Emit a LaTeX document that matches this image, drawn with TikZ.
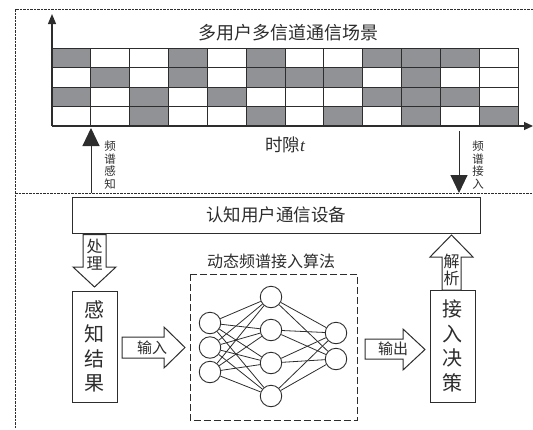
\documentclass[tikz,border=0pt]{standalone}
\usepackage{fontspec}
\setmainfont{Liberation Serif}
\newfontfamily\cjk{Noto Sans CJK SC}
\usetikzlibrary{arrows.meta}
\definecolor{cellgray}{RGB}{145,146,149}
\definecolor{ink}{RGB}{45,45,45}
\tikzset{
  frame/.style={draw=ink, line width=0.9pt, dash pattern=on 2.5pt off 1pt},
  nnframe/.style={draw=ink, line width=1pt, dash pattern=on 7pt off 3pt},
  cellline/.style={draw=ink, line width=1pt},
  axis/.style={draw=ink, line width=1.2pt},
  box/.style={draw=ink, line width=1pt, fill=white},
  hollow/.style={draw=ink, line width=1pt, fill=white, line join=miter},
  neuron/.style={circle, draw=ink, line width=0.9pt, minimum size=21.5pt, inner sep=0pt, fill=white},
  link/.style={draw=ink, line width=0.8pt},
  bigtip/.style={-{Triangle[width=17pt,length=18pt]}},
  txt/.style={text=ink, inner sep=0pt},
  vtxt/.style={text=ink, inner sep=0pt, align=center}
}
\begin{document}
\begin{tikzpicture}[x=1pt,y=-1pt]
\useasboundingbox (0,0) rectangle (533,429);
% frames
\draw[frame] (533,9) -- (15,9) -- (15,429);
\draw[frame] (15,193) -- (533,193);
% grid cells
\def\cw{38.833}
\def\rh{19.5}
\foreach \r/\cols in {0/{1,4,6,9,10,11},1/{2,4,6,7,8,10},2/{1,3,5,9,10,11},3/{3,6,8,10,12}}{
  \foreach \c in \cols {
    \fill[cellgray] ({52+(\c-1)*\cw},{48+\r*\rh}) rectangle +(\cw,\rh);
  }
}
\foreach \k in {0,...,12} \draw[cellline] ({52+\k*\cw},48) -- ({52+\k*\cw},126);
\foreach \k in {0,...,3} \draw[cellline] (52,{48+\k*\rh}) -- (518,{48+\k*\rh});
% axes
\coordinate (O) at (52,126);
\coordinate (ytop) at (52,14);
\coordinate (xend) at (533,126);
\draw[axis,-{Triangle[width=8pt,length=10pt]}] (O) -- (ytop);
\draw[axis,-{Triangle[width=8pt,length=9pt]}] (O) -- (xend);
% titles
\node[txt, font=\cjk\fontsize{18}{18}\selectfont] (title) at (288,33) {多用户多信道通信场景};
\node[txt, font=\cjk\fontsize{17.5}{17.5}\selectfont] (slot) at (285,145) {时隙{\rmfamily\itshape t}};
% sensing / access arrows
\coordinate (senseS) at (91,193);
\coordinate (senseT) at (91,128);
\draw[line width=1pt, draw=ink, fill=ink, bigtip] (senseS) -- (senseT);
\node[vtxt, font=\cjk\fontsize{11.5}{12.5}\selectfont] (sense) at (110,165) {频\\谱\\感\\知};
\coordinate (accS) at (459,131);
\coordinate (accT) at (459,193);
\draw[line width=1pt, draw=ink, fill=ink, bigtip] (accS) -- (accT);
\node[vtxt, font=\cjk\fontsize{11.5}{12.5}\selectfont] (access) at (478,165) {频\\谱\\接\\入};
% device box
\node[box, txt, minimum width=408pt, minimum height=36pt, font=\cjk\fontsize{17.5}{17.5}\selectfont] (dev) at (276,215) {认知用户通信设备};
% result boxes
\node[box, vtxt, minimum width=45pt, minimum height=111pt, font=\cjk\fontsize{20}{24.5}\selectfont] (res) at (94.5,346.5) {感\\知\\结\\果};
\node[box, vtxt, minimum width=45pt, minimum height=112pt, font=\cjk\fontsize{20}{24.5}\selectfont] (dec) at (452.5,346) {接\\入\\决\\策};
% hollow arrows
\draw[hollow] (83,234.5) -- (106,234.5) -- (106,267) -- (116,267) -- (94.5,287) -- (73,267) -- (83,267) -- cycle;
\node[vtxt, font=\cjk\fontsize{16}{17}\selectfont] (proc) at (94.5,255) {处\\理};
\draw[hollow] (122,337) -- (164,337) -- (164,327) -- (185,347.5) -- (164,368) -- (164,358) -- (122,358) -- cycle;
\node[txt, font=\cjk\fontsize{15}{15}\selectfont] (inp) at (152,347.5) {输入};
\draw[hollow] (365,339) -- (403,339) -- (403,329) -- (425,349.5) -- (403,370) -- (403,359) -- (365,359) -- cycle;
\node[txt, font=\cjk\fontsize{15}{15}\selectfont] (outp) at (393,349) {输出};
\draw[hollow] (442,290) -- (442,257) -- (430,257) -- (451.5,235) -- (473,257) -- (461,257) -- (461,290) -- cycle;
\node[vtxt, font=\cjk\fontsize{16}{17.5}\selectfont] (parse) at (451.5,270) {解\\析};
% NN
\node[txt, font=\cjk\fontsize{16}{16}\selectfont] (nntitle) at (271,261) {动态频谱接入算法};
\draw[nnframe] (190,274) rectangle (357,420.5);
\foreach \y [count=\i] in {323,347.5,372} \node[neuron] (i\i) at (210,\y) {};
\foreach \y [count=\i] in {297,330,363,396} \node[neuron] (h\i) at (271,\y) {};
\foreach \y [count=\i] in {333,359} \node[neuron] (o\i) at (336,\y) {};
\foreach \a in {1,2,3} \foreach \b in {1,2,3,4} \draw[link] (i\a) -- (h\b);
\foreach \a in {1,2,3,4} \foreach \b in {1,2} \draw[link] (h\a) -- (o\b);
\end{tikzpicture}
\end{document}
